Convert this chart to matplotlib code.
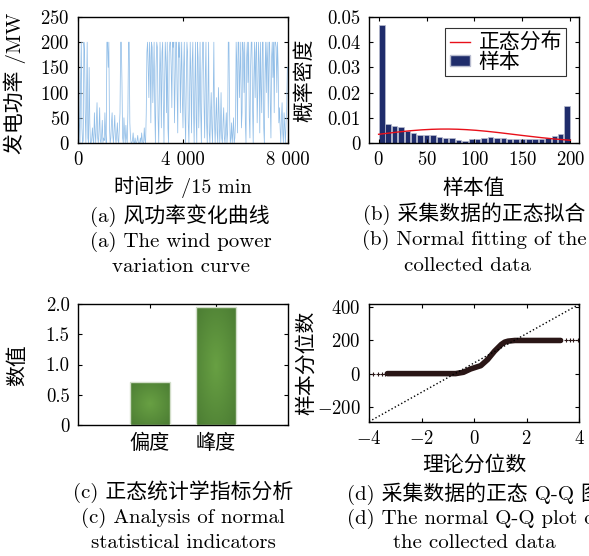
import numpy as np
import matplotlib
matplotlib.use('Agg')
import matplotlib.pyplot as plt
from matplotlib.colors import LinearSegmentedColormap
from matplotlib.lines import Line2D
from matplotlib.patches import Patch

plt.rcParams['font.family'] = ['cmr10', 'Noto Sans CJK SC', 'DejaVu Sans']
plt.rcParams['mathtext.fontset'] = 'cm'
plt.rcParams['axes.formatter.use_mathtext'] = True
plt.rcParams['font.size'] = 13.5
plt.rcParams['axes.linewidth'] = 1.0
for a in ('x', 'y'):
    plt.rcParams[a + 'tick.direction'] = 'in'
    plt.rcParams[a + 'tick.major.size'] = 3
    plt.rcParams[a + 'tick.major.width'] = 0.8
    plt.rcParams[a + 'tick.major.pad'] = 6

# (a) wind power series, one value every 25 steps
step = 25
power = [
    200, 150, 40, 0, 120, 200, 30, 0, 5, 200, 180, 60, 0, 90, 200, 10, 0, 150, 40, 0,
    0, 10, 30, 5, 0, 60, 20, 0, 40, 80, 10, 0, 25, 70, 5, 0, 15, 45, 0, 10,
    5, 60, 20, 0, 200, 200, 150, 200, 30, 0, 10, 40, 60, 15, 0, 30, 55, 10, 0, 20,
    40, 5, 0, 30, 60, 200, 200, 120, 10, 0, 50, 20, 0, 35, 10, 0, 60, 200, 200, 40,
    10, 0, 0, 5, 20, 0, 0, 10, 0, 0, 5, 15, 0, 0, 0, 10, 0, 20, 5, 0,
    0, 30, 5, 0, 60, 180, 200, 150, 90, 200, 170, 40, 200, 190, 80, 130, 200, 60, 0, 150,
    200, 190, 50, 0, 100, 200, 140, 30, 180, 200, 80, 0, 120, 200, 160, 60, 200, 30, 0, 180,
    200, 200, 150, 70, 200, 190, 200, 40, 120, 200, 200, 100, 20, 200, 170, 200, 60, 140, 200, 90,
    30, 150, 200, 60, 0, 120, 200, 180, 40, 0, 90, 200, 130, 20, 160, 200, 70, 0, 110, 200,
    50, 0, 200, 170, 30, 100, 200, 60, 0, 140, 200, 200, 80, 10, 130, 200, 40, 0, 90, 200,
    20, 0, 60, 100, 30, 0, 80, 200, 40, 0, 50, 90, 20, 0, 110, 60, 0, 30, 100, 10,
    0, 40, 70, 10, 0, 30, 60, 0, 20, 200, 200, 60, 0, 10, 40, 0, 20, 50, 0, 10,
    40, 200, 160, 20, 200, 200, 90, 150, 200, 30, 60, 200, 180, 100, 200, 40, 0, 170, 200, 120,
    200, 50, 10, 150, 200, 200, 70, 0, 130, 200, 90, 180, 200, 40, 100, 200, 160, 20, 200, 110,
    60, 200, 200, 30, 0, 140, 200, 100, 200, 160, 50, 200, 200, 80, 10, 170, 200, 130, 200, 60,
    200, 200, 190, 100, 200, 150, 40, 70, 30, 0, 50, 80, 20, 0, 60, 30, 0, 40, 70, 150, 150,
]
a_xticks = [0, 4000, 8000]
a_xticklabels = ['0', '4 000', '8 000']
a_yticks = [0, 50, 100, 150, 200, 250]

# (b) histogram (density) and fitted normal
hist_density = [0.0470, 0.0075, 0.0069, 0.0063, 0.0047, 0.0040, 0.0032, 0.0032, 0.0032, 0.0025,
                0.0018, 0.0018, 0.0012, 0.0009, 0.0017, 0.0017, 0.0019, 0.0023, 0.0021, 0.0018,
                0.0017, 0.0017, 0.0016, 0.0016, 0.0017, 0.0017, 0.0018, 0.0026, 0.0037, 0.0147]
hist_range = (0, 200)
fit_mu, fit_sigma = 70, 72
b_yticks = [0, 0.01, 0.02, 0.03, 0.04, 0.05]
b_yticklabels = ['0', '0.01', '0.02', '0.03', '0.04', '0.05']
b_xticks = [0, 50, 100, 150, 200]

# (c) statistics
stat_names = ['偏度', '峰度']
stat_values = [0.71, 1.95]
c_yticks = [0, 0.5, 1.0, 1.5, 2.0]
c_yticklabels = ['0', '0.5', '1.0', '1.5', '2.0']

# (d) Q-Q plot
qq_theory = [-3.3, -0.7, -0.4, -0.13, 0.26, 0.52, 0.78, 1.04, 1.17, 1.3, 1.56, 3.3]
qq_sample = [0, 0, 8, 28, 48, 85, 135, 176, 190, 196, 200, 200]
qq_tail_x = [-3.83, -3.64, -3.5, -3.38, 3.5, 3.64, 3.77, 3.95]
qq_tail_y = [0, 0, 0, 0, 200, 200, 200, 200]
qq_slope, qq_intercept = 88.5, 64

W, H = 589, 556
fig = plt.figure(figsize=(W / 100, H / 100), dpi=100)


def box(l, t, r, b):
    return [l / W, 1 - b / H, (r - l) / W, (b - t) / H]


def ftext(x, y, s, size=15, **kw):
    fig.text(x / W, 1 - y / H, s, ha='center', va='center', fontsize=size, **kw)


def all_ticks(ax):
    ax.tick_params(top=True, right=True, labelsize=13.5)


# (a)
ax1 = fig.add_axes(box(78, 17, 288, 143))
t = np.arange(len(power)) * step
ax1.plot(t, power, color='#93bfe8', lw=0.55)
ax1.set_xlim(0, 8000)
ax1.set_ylim(0, 250)
ax1.set_xticks(a_xticks)
ax1.set_xticklabels(a_xticklabels)
ax1.set_yticks(a_yticks)
all_ticks(ax1)

# (b)
ax2 = fig.add_axes(box(369, 17, 579, 143))
edges = np.linspace(hist_range[0], hist_range[1], len(hist_density) + 1)
centers = (edges[:-1] + edges[1:]) / 2
bw = edges[1] - edges[0]
ax2.bar(centers, hist_density, width=bw * 0.85, color='#1f2c6b', edgecolor='#b8bccf', lw=0.5)
xs = np.linspace(hist_range[0], hist_range[1], 200)
pdf = np.exp(-(xs - fit_mu) ** 2 / (2 * fit_sigma ** 2)) / (fit_sigma * np.sqrt(2 * np.pi))
ax2.plot(xs, pdf, color='#e8101a', lw=1)
ax2.set_xlim(-10, 209)
ax2.set_ylim(0, 0.05)
ax2.set_xticks(b_xticks)
ax2.set_yticks(b_yticks)
ax2.set_yticklabels(b_yticklabels)
all_ticks(ax2)
handles = [Line2D([], [], color='#e8101a', lw=1), Patch(facecolor='#1f2c6b', edgecolor='#b8bccf')]
leg = ax2.legend(handles, ['正态分布', '样本'], loc='upper right', bbox_to_anchor=(0.94, 0.91),
                 fontsize=15, frameon=True, fancybox=False, handlelength=1.0, handleheight=0.45,
                 borderpad=0.2, labelspacing=0.0, handletextpad=0.4, borderaxespad=0)
leg.get_frame().set_edgecolor('black')
leg.get_frame().set_linewidth(0.8)

# (c)
ax3 = fig.add_axes(box(78, 304, 288, 425))
green = LinearSegmentedColormap.from_list('g', ['#68a043', '#4b7c33'])
xpos = [1, 2]
bar_w = 0.6
yy, xx = np.mgrid[-1:1:120j, -1:1:120j]
rr = np.sqrt(xx ** 2 + yy ** 2) / np.sqrt(2)
for x, v in zip(xpos, stat_values):
    im = ax3.imshow(rr, cmap=green, vmin=0, vmax=1, extent=[x - bar_w / 2, x + bar_w / 2, 0, v],
                    aspect='auto', origin='lower', zorder=2)
    rect = ax3.bar(x, v, bar_w, facecolor='none', edgecolor='#d2dec9', lw=1, zorder=3)[0]
    im.set_clip_path(rect)
ax3.set_xlim(-0.09, 3.09)
ax3.set_ylim(0, 2.0)
ax3.set_xticks(xpos)
ax3.set_xticklabels(stat_names)
ax3.set_yticks(c_yticks)
ax3.set_yticklabels(c_yticklabels)
all_ticks(ax3)
ax3.tick_params(axis='x', labelsize=14.5)

# (d)
ax4 = fig.add_axes(box(369, 304, 579, 422))
ax4.plot(qq_theory, qq_sample, color='#2a1616', lw=4, solid_capstyle='round')
ax4.plot(qq_tail_x, qq_tail_y, '+', color='#2a1616', ms=3, mew=0.8)
lx = np.array([-4, 4])
ax4.plot(lx, qq_slope * lx + qq_intercept, ':', color='black', lw=1)
ax4.set_xlim(-4, 4)
ax4.set_ylim(-292, 420)
ax4.set_xticks([-4, -2, 0, 2, 4])
ax4.set_yticks([-200, 0, 200, 400])
all_ticks(ax4)

# axis labels
ftext(15, 83, '发电功率 /MW', rotation=90)
ftext(183, 187, '时间步 /15 min', size=14.5)
ftext(304, 80, '概率密度', rotation=90)
ftext(474, 188, '样本值')
ftext(17, 365, '数值', rotation=90)
ftext(306, 363, '样本分位数', rotation=90)
ftext(474, 465, '理论分位数')

# captions
ftext(180, 216, '(a) 风功率变化曲线')
ftext(181, 242, '(a) The wind power')
ftext(181, 267, 'variation curve')
ftext(474, 214, '(b) 采集数据的正态拟合')
ftext(474, 240, '(b) Normal fitting of the')
ftext(467, 266, 'collected data')
ftext(183, 492, '(c) 正态统计学指标分析')
ftext(183, 518, '(c) Analysis of normal')
ftext(183, 543, 'statistical indicators')
ftext(474, 494, '(d) 采集数据的正态 Q-Q 图')
ftext(474, 519, '(d) The normal Q-Q plot of')
ftext(474, 543, 'the collected data')

fig.savefig('out.png', dpi=100)
